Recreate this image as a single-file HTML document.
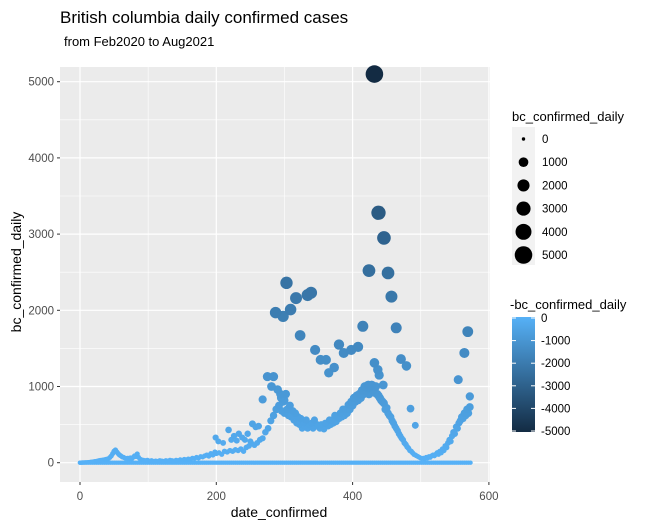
<!DOCTYPE html>
<html><head><meta charset="utf-8"><style>
body{margin:0;background:#fff;}
svg{display:block;font-family:"Liberation Sans",Arial,sans-serif;}
</style></head><body>
<svg id="chart" width="658" height="527" viewBox="0 0 658 527">
<rect width="658" height="527" fill="#fff"/>
<text x="60" y="23" font-size="17" fill="#000">British columbia daily confirmed cases</text>
<text x="64" y="46" font-size="13" fill="#000">from Feb2020 to Aug2021</text>
<rect x="60" y="67" width="430" height="415" fill="#EBEBEB"/>
<g id="grid"></g>
<g id="zeros"></g>
<g id="points"></g>
<g id="axes"></g>
<text x="279" y="517" font-size="14" text-anchor="middle" fill="#000">date_confirmed</text>
<text transform="translate(21,272) rotate(-90)" font-size="14" text-anchor="middle" fill="#000">bc_confirmed_daily</text>
<g>
<text x="512" y="121" font-size="13" fill="#000">bc_confirmed_daily</text>
<rect x="512" y="127" width="23" height="138" fill="#F2F2F2"/>
<g id="sizeLegend"></g>
</g>
<g>
<text x="510" y="309" font-size="13" fill="#000">-bc_confirmed_daily</text>
<defs><linearGradient id="cg" x1="0" y1="0" x2="0" y2="1"><stop offset="0" stop-color="#56B1F7"/><stop offset="1" stop-color="#132B43"/></linearGradient></defs>
<rect x="512" y="317" width="23" height="115" fill="url(#cg)"/>
<g id="colorLegend"></g>
</g>
</svg>
<script>
const xTicks=[0,200,400,600];
const yTicks=[0,1000,2000,3000,4000,5000];
const zeroDays=[0,3,6,9,12,15,18,21,24,27,30,33,36,39,42,45,48,51,54,57,60,63,66,69,72,75,78,81,84,87,90,93,96,99,102,105,108,111,114,117,120,123,126,129,132,135,138,141,144,147,150,153,156,159,162,165,168,171,174,177,180,183,186,189,192,195,198,201,204,207,210,213,216,219,222,225,228,231,234,237,240,243,246,249,252,255,258,261,264,267,270,273,276,279,282,285,288,291,294,297,300,303,306,309,312,315,318,321,324,327,330,333,336,339,342,345,348,351,354,357,360,363,366,369,372,375,378,381,384,387,390,393,396,399,402,405,408,411,414,417,420,423,426,429,432,435,438,441,444,447,450,453,456,459,462,465,468,471,474,477,480,483,486,489,492,495,498,501,504,507,510,513,516,519,522,525,528,531,534,537,540,543,546,549,552,555,558,561,564,567,570,573];
// observations as [day, confirmed] pairs
const earlyObs=[[0,0],[2,1],[4,2],[6,3],[8,4],[10,5],[12,6],[14,8],[16,10],[18,12],[20,15],[22,18],[24,20],[26,25],[28,30],[30,32],[32,35],[34,38],[36,40],[38,45],[40,48],[42,55],[44,70],[46,90],[48,120],[50,150],[52,165],[54,140],[56,120],[58,100],[60,90],[62,75],[64,70],[66,60],[68,55],[70,60],[72,50],[74,65],[76,50],[78,70],[80,90],[82,80],[84,115],[86,70],[88,50],[90,40],[93,35],[96,30],[99,35],[102,25],[105,30],[108,20],[111,25],[114,20],[117,30],[120,25],[123,20],[126,30],[129,25],[132,35],[135,30],[138,25],[141,35],[144,30],[147,40],[150,35],[153,45],[156,40],[159,50],[162,45],[165,60],[168,55],[171,70],[174,60],[177,80],[180,75],[183,90],[186,100],[189,85],[192,120],[195,100],[198,140]];
const fallObs=[[200,120],[204,130],[208,110],[212,150],[216,140],[220,160],[224,150],[228,170],[232,160],[236,180],[240,150],[244,200],[248,220],[252,250],[256,230],[260,260],[264,300],[268,320],[272,400],[276,450],[280,550],[284,620],[288,700],[199,330],[203,280],[210,260],[218,430],[222,300],[226,350],[230,290],[233,380],[238,330],[242,300],[246,380],[250,280],[253,510],[258,470],[262,480],[268,830],[275,1130],[281,1000],[284,1130],[290,960],[295,850],[300,820],[287,1970],[298,1920],[303,2360],[309,2010],[317,2160],[334,2200],[339,2230],[323,1670],[345,1480],[353,1350],[361,1350],[373,1250],[365,1180],[380,1550],[387,1440],[398,1480],[408,1520]];
const bandObs=[[292,750],[294,900],[296,680],[298,800],[300,650],[302,900],[304,700],[306,620],[308,750],[310,600],[312,680],[314,560],[316,650],[318,520],[320,600],[322,500],[324,580],[326,450],[328,520],[330,480],[332,560],[334,450],[336,500],[338,480],[340,520],[342,450],[344,560],[346,480],[348,500],[350,470],[352,450],[354,500],[356,480],[358,440],[360,520],[362,500],[364,480],[366,560],[368,500],[370,560],[372,520],[374,620],[376,540],[378,600],[380,580],[382,650],[384,600],[386,700],[388,620],[390,700],[392,650],[394,760],[396,700],[398,800],[400,750],[402,850],[404,800],[406,880],[408,820],[410,900],[412,850],[414,950],[416,900],[418,1000],[420,950],[422,980],[424,900],[426,1000],[428,1020],[430,950],[432,920],[434,1000],[436,900],[438,880],[440,850],[442,820],[444,800],[446,780],[448,700],[450,720],[452,650],[454,620],[456,600],[458,550],[460,520],[462,480],[464,450],[466,420],[468,380],[470,350],[472,320],[474,300],[476,260],[478,240],[480,210],[482,190],[484,160],[486,150],[488,130],[490,110],[492,100],[494,90],[496,80],[498,70],[500,60],[502,55],[504,60],[506,50],[508,70],[510,60],[512,80],[514,70],[516,90],[518,100],[520,90],[522,110],[524,130],[526,110],[528,150],[530,130],[532,180],[534,160],[536,220],[538,200],[540,260],[542,300],[544,280],[546,350],[548,400],[550,380],[552,470],[554,450],[556,520],[558,550],[560,600],[562,580],[564,650],[566,620],[568,700],[570,650],[572,730]];
const peakObs=[[415,1790],[424,2520],[452,2490],[432,5100],[438,3280],[446,2950],[457,2180],[464,1770],[471,1360],[479,1270],[432,1310],[437,1220],[439,1150],[423,1020],[445,1020],[485,710],[492,490],[555,1090],[564,1440],[569,1720],[572,870]];
const X=d=>80+d*0.6815, Y=v=>462.7-v*0.0762;
const NS='http://www.w3.org/2000/svg';
function mk(t,a,p){const e=document.createElementNS(NS,t);for(const k in a)e.setAttribute(k,a[k]);(p||document.getElementById('chart')).appendChild(e);return e;}
function col(v){const t=Math.min(1,Math.max(0,v/5100));const a=[0x56,0xB1,0xF7],b=[0x13,0x2B,0x43];return 'rgb('+a.map((c,i)=>Math.round(c+(b[i]-c)*t)).join(',')+')';}
function rad(v){return Math.sqrt(5+72*Math.max(0,v)/5100);}
const grid=document.getElementById('grid');
[100,300,500].forEach(d=>{const l=mk('line',{x1:X(d),x2:X(d),y1:67,y2:482,stroke:'#fff','stroke-width':0.6},grid);});
[500,1500,2500,3500,4500].forEach(v=>{const l=mk('line',{x1:60,x2:490,y1:Y(v),y2:Y(v),stroke:'#fff','stroke-width':0.6},grid);});
const axes=document.getElementById('axes');
xTicks.forEach(d=>{const l=mk('line',{x1:X(d),x2:X(d),y1:67,y2:482,stroke:'#fff','stroke-width':1.2},grid);
const tk=mk('line',{x1:X(d),x2:X(d),y1:482,y2:485,stroke:'#333','stroke-width':1},axes);
const t=mk('text',{x:X(d),y:500,'font-size':11.5,'text-anchor':'middle',fill:'#4D4D4D'},axes);t.textContent=d;});
yTicks.forEach(v=>{const l=mk('line',{x1:60,x2:490,y1:Y(v),y2:Y(v),stroke:'#fff','stroke-width':1.2},grid);
const tk=mk('line',{x1:57,x2:60,y1:Y(v),y2:Y(v),stroke:'#333','stroke-width':1},axes);
const t=mk('text',{x:54,y:Y(v)+4,'font-size':11.5,'text-anchor':'end',fill:'#4D4D4D'},axes);t.textContent=v;});
const zg=document.getElementById('zeros');
zeroDays.forEach(d=>{const c=mk('circle',{cx:X(d),cy:Y(0),r:rad(0),fill:col(0)},zg);});
const pg=document.getElementById('points');
const allObs=earlyObs.concat(fallObs,bandObs,peakObs).sort((a,b)=>a[1]-b[1]);
allObs.forEach(o=>{const c=mk('circle',{cx:X(o[0]),cy:Y(o[1]),r:rad(o[1]),fill:col(o[1])},pg);});
const sl=document.getElementById('sizeLegend');
const sizeKeys=[0,1000,2000,3000,4000,5000];
sizeKeys.forEach((v,i)=>{const y=139+i*23.2;const r=v===0?1.7:Math.sqrt(10+67*v/5000);
const c=mk('circle',{cx:523.5,cy:y,r:r,fill:'#000'},sl);
const t=mk('text',{x:542,y:y+4,'font-size':11.5,fill:'#000'},sl);t.textContent=v;});
const cl=document.getElementById('colorLegend');
const colorKeys=[0,-1000,-2000,-3000,-4000,-5000];
colorKeys.forEach(v=>{const y=318+(-v/5000)*113;
[[512,516],[531,535]].forEach(p=>{const l=mk('line',{x1:p[0],x2:p[1],y1:y,y2:y,stroke:'#fff','stroke-width':1},cl);});
const t=mk('text',{x:541,y:y+4,'font-size':11.5,fill:'#000'},cl);t.textContent=v;});
</script>
</body></html>
